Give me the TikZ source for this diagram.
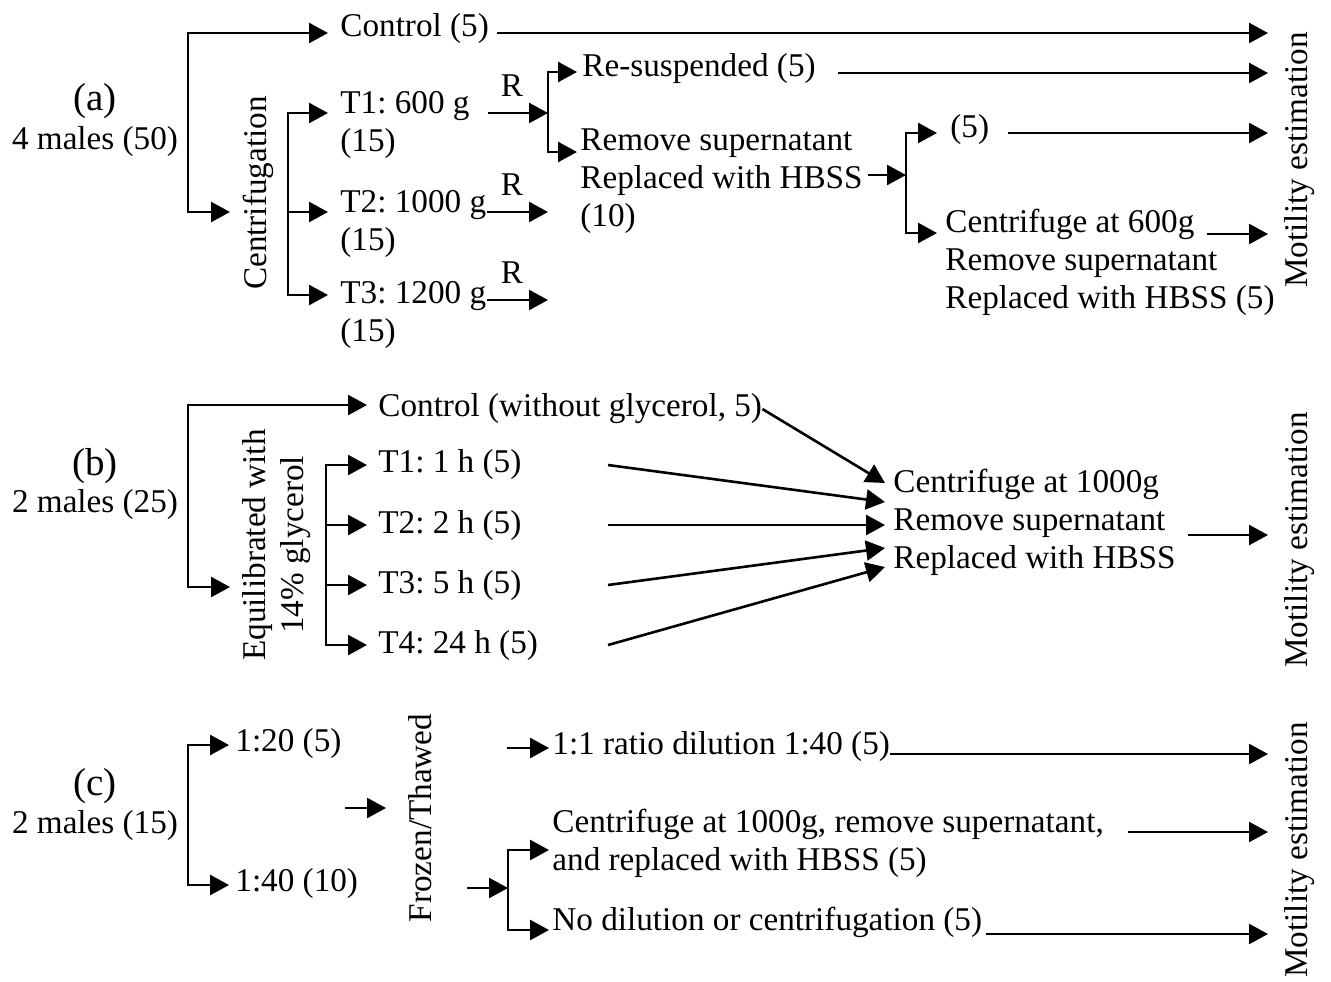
\documentclass[tikz,border=0pt]{standalone}
\usepackage{fontspec}
\setmainfont{Liberation Serif}
\usetikzlibrary{arrows.meta}
\frenchspacing
\begin{document}
\begin{tikzpicture}[x=0.5pt,y=-0.5pt,
  txt/.style={font=\fontsize{16.6}{19}\selectfont\frenchspacing, inner sep=0pt, align=left, anchor=west},
  ctxt/.style={font=\fontsize{16.6}{19}\selectfont\frenchspacing, inner sep=0pt, align=center},
  big/.style={font=\fontsize{19.5}{22}\selectfont, inner sep=0pt},
  arr/.style={line width=1.3pt, -{Triangle[length=9.5pt,width=10pt]}}]
\useasboundingbox (0,0) rectangle (1331,981);

% ================= (a) =================
\node[big] (la) at (95,101) {(a)};
\node[ctxt] (ma) at (95,142) {4 males (50)};
\node[txt] (ctrl) at (340,29) {Control (5)};
\node[ctxt,rotate=90] (cent) at (258,193) {Centrifugation};
\node[txt] (t1) at (340,125) {T1: 600 g\\(15)};
\node[txt] (t2) at (340,224) {T2: 1000 g\\(15)};
\node[txt] (t3) at (340,315) {T3: 1200 g\\(15)};
\node[ctxt] (r1) at (512,86) {R};
\node[ctxt] (r2) at (512,185) {R};
\node[ctxt] (r3) at (512,273) {R};
\node[txt] (resus) at (582,69) {Re-suspended (5)};
\node[txt] (remove) at (580,181) {Remove supernatant\\Replaced with HBSS\\(10)};
\node[txt] (five) at (950,130) {(5)};
\node[txt] (cen600) at (945,262) {Centrifuge at 600g\\Remove supernatant\\Replaced with HBSS (5)};
\node[ctxt,rotate=90] (motA) at (1300,160) {Motility estimation};

\coordinate (aT) at (188,33);  \coordinate (aB) at (188,212);
\coordinate (ctrlIn) at (328,33); \coordinate (centIn) at (230,212);
\draw[arr] (aB) |- (ctrlIn);
\draw[arr] (aT) |- (centIn);
\coordinate (ctrlEnd) at (1268,33);
\draw[arr] ([xshift=4pt]ctrl.east |- ctrlEnd) -- (ctrlEnd);

\coordinate (bT) at (288,113); \coordinate (bB) at (288,295);
\coordinate (t1In) at (328,113); \coordinate (t2In) at (328,212); \coordinate (t3In) at (328,295);
\draw[arr] (bB) |- (t1In);
\draw[arr] (bT) |- (t3In);
\draw[arr] (bT |- t2In) -- (t2In);

\coordinate (t1Out) at (488,113); \coordinate (cM) at (548,113);
\coordinate (t2Out) at (487,212); \coordinate (t2End) at (548,212);
\coordinate (t3Out) at (487,300); \coordinate (t3End) at (548,300);
\draw[arr] (t1Out) -- (cM);
\draw[arr] (t2Out) -- (t2End);
\draw[arr] (t3Out) -- (t3End);

\coordinate (cT) at (548,72); \coordinate (cB) at (548,152);
\coordinate (resIn) at (577,72); \coordinate (remIn) at (577,152);
\draw[arr] (cB) |- (resIn);
\draw[arr] (cT) |- (remIn);
\coordinate (resEnd) at (1268,73);
\draw[arr] ([xshift=11pt]resus.east |- resEnd) -- (resEnd);

\coordinate (remOut) at (868,175); \coordinate (dM) at (906,175);
\draw[arr] (remOut) -- (dM);
\coordinate (dT) at (906,133); \coordinate (dB) at (906,233);
\coordinate (fiveIn) at (937,133); \coordinate (c600In) at (937,233);
\draw[arr] (dB) |- (fiveIn);
\draw[arr] (dT) |- (c600In);
\coordinate (fiveEnd) at (1268,133);
\draw[arr] ([xshift=9pt]five.east |- fiveEnd) -- (fiveEnd);
\coordinate (c600Out) at (1207,234); \coordinate (c600End) at (1268,234);
\draw[arr] (c600Out) -- (c600End);

% ================= (b) =================
\node[big] (lb) at (95,466) {(b)};
\node[ctxt] (mb) at (95,505) {2 males (25)};
\node[txt] (ctrlB) at (378,409) {Control (without glycerol, 5)};
\node[ctxt,rotate=90] (equi) at (277,545) {Equilibrated with\\14\% glycerol};
\node[txt] (h1) at (378,465) {T1: 1 h (5)};
\node[txt] (h2) at (378,525) {T2: 2 h (5)};
\node[txt] (h3) at (378,585) {T3: 5 h (5)};
\node[txt] (h4) at (378,645) {T4: 24 h (5)};
\node[txt] (cenB) at (893,522) {Centrifuge at 1000g\\Remove supernatant\\Replaced with HBSS};
\node[ctxt,rotate=90] (motB) at (1300,540) {Motility estimation};

\coordinate (eT) at (188,405); \coordinate (eB) at (188,587);
\coordinate (cbIn) at (367,405); \coordinate (equIn) at (230,587);
\draw[arr] (eB) |- (cbIn);
\draw[arr] (eT) |- (equIn);

\coordinate (fT) at (326,465); \coordinate (fB) at (326,645);
\coordinate (h1In) at (367,465); \coordinate (h2In) at (367,525);
\coordinate (h3In) at (367,585); \coordinate (h4In) at (367,645);
\draw[arr] (fB) |- (h1In);
\draw[arr] (fT) |- (h4In);
\draw[arr] (fT |- h2In) -- (h2In);
\draw[arr] (fT |- h3In) -- (h3In);

\coordinate (k0) at (885,483); \coordinate (k1) at (885,502);
\coordinate (k2) at (885,525); \coordinate (k3) at (885,548);
\coordinate (k4) at (885,567);
\coordinate (h1Out) at (608,465); \coordinate (h2Out) at (608,525);
\coordinate (h3Out) at (608,585); \coordinate (h4Out) at (608,645);
\draw[arr] (ctrlB.east) -- (k0);
\draw[arr] (h1Out) -- (k1);
\draw[arr] (h2Out) -- (k2);
\draw[arr] (h3Out) -- (k3);
\draw[arr] (h4Out) -- (k4);
\coordinate (cenBOut) at (1188,535); \coordinate (cenBEnd) at (1268,535);
\draw[arr] (cenBOut) -- (cenBEnd);

% ================= (c) =================
\node[big] (lc) at (95,786) {(c)};
\node[ctxt] (mc) at (95,825) {2 males (15)};
\node[txt] (d20) at (235,743) {1:20 (5)};
\node[txt] (d40) at (235,883) {1:40 (10)};
\node[ctxt,rotate=90] (froz) at (420,818) {Frozen/Thawed};
\node[txt] (ratio) at (552,746) {1:1 ratio dilution 1:40 (5)};
\node[txt] (cen1000) at (552,843) {Centrifuge at 1000g, remove supernatant,\\and replaced with HBSS (5)};
\node[txt] (nodil) at (552,922) {No dilution or centrifugation (5)};
\node[ctxt,rotate=90] (motC) at (1300,850) {Motility estimation};

\coordinate (gT) at (188,745); \coordinate (gB) at (188,885);
\coordinate (d20In) at (229,745); \coordinate (d40In) at (229,885);
\draw[arr] (gB) |- (d20In);
\draw[arr] (gT) |- (d40In);

\coordinate (frIn0) at (345,808); \coordinate (frIn) at (386,808);
\draw[arr] (frIn0) -- (frIn);

\coordinate (raIn0) at (507,748); \coordinate (raIn) at (549,748);
\draw[arr] (raIn0) -- (raIn);
\coordinate (raEnd) at (1268,754);
\draw[arr] (ratio.east |- raEnd) -- (raEnd);

\coordinate (brIn0) at (467,888); \coordinate (hM) at (508,888);
\draw[arr] (brIn0) -- (hM);
\coordinate (hT) at (508,850); \coordinate (hB) at (508,930);
\coordinate (cenIn) at (549,850); \coordinate (ndIn) at (549,930);
\draw[arr] (hB) |- (cenIn);
\draw[arr] (hT) |- (ndIn);
\coordinate (cenOut) at (1128,832); \coordinate (cenEnd) at (1268,832);
\draw[arr] (cenOut) -- (cenEnd);
\coordinate (ndEnd) at (1268,934);
\draw[arr] ([xshift=2pt]nodil.east |- ndEnd) -- (ndEnd);
\end{tikzpicture}
\end{document}
